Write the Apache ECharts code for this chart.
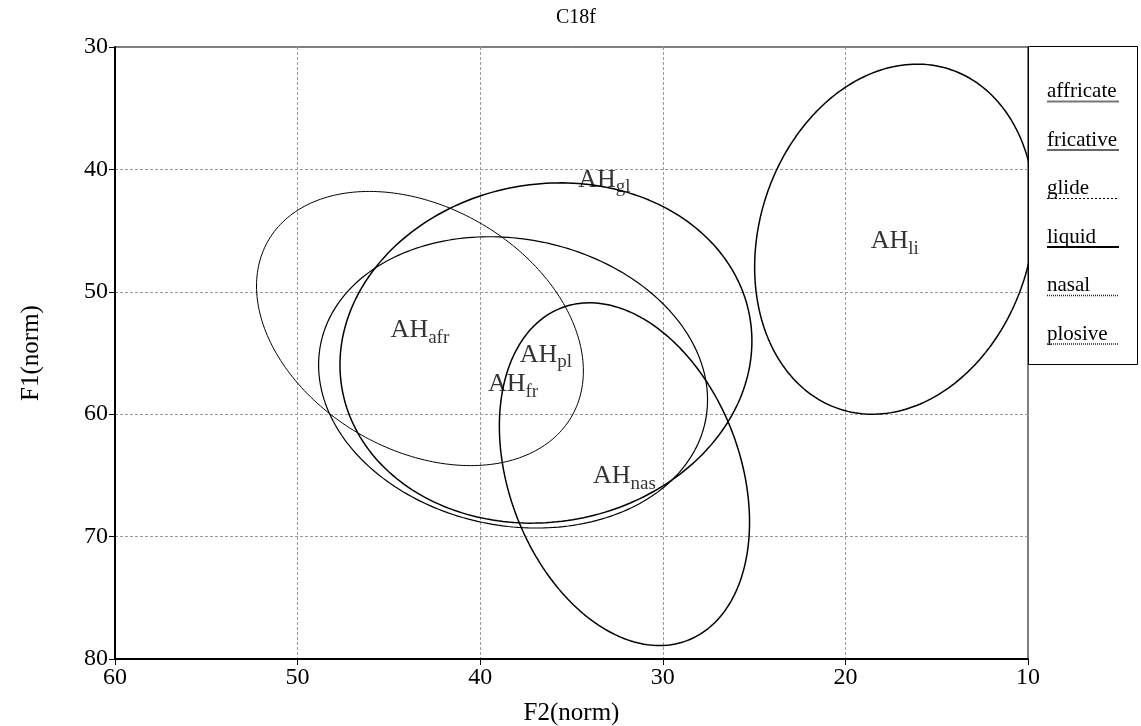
<!DOCTYPE html>
<html>
<head>
<meta charset="utf-8">
<script src="https://cdn.jsdelivr.net/npm/echarts@6/dist/echarts.min.js"></script>
<style>
  html, body { margin: 0; padding: 0; background: #fff; }
  #chart { width: 1141px; height: 726px; }
</style>
</head>
<body>
<div id="chart"></div>
<script>
// Speaker C18f: formant space (normalised F2 vs F1) per consonant class
const classCodes  = ['afr', 'fr', 'gl', 'li', 'nas', 'pl'];
const classNames  = ['affricate', 'fricative', 'glide', 'liquid', 'nasal', 'plosive'];

// class means
const meanF2 = [43.3, 38.2, 33.2, 17.3, 32.1, 36.4];
const meanF1 = [53.0, 57.4, 40.7, 45.7, 64.9, 55.0];

// ellipse half-extents along each axis and F2/F1 correlation (glide has no ellipse)
const spreadF2 = [8.95, 10.65, null, 7.67, 6.85, 11.28];
const spreadF1 = [11.2, 11.9, null, 14.3, 14.0, 13.9];
const corrF2F1 = [-0.31, -0.12, null, 0.16, -0.28, 0.07];

// axis ticks
const f2Ticks = [60, 50, 40, 30, 20, 10];
const f1Ticks = [30, 40, 50, 60, 70, 80];

const lineWidths = [1, 1.2, 1, 1.5, 1.5, 1.5];

const SERIF = '"Liberation Serif", "Times New Roman", "DejaVu Serif", serif';

function ellipsePoints(i) {
  const pts = [];
  const phi = Math.acos(corrF2F1[i]);
  const n = 240;
  for (let k = 0; k <= n; k++) {
    const t = (2 * Math.PI * k) / n;
    pts.push([
      meanF2[i] + spreadF2[i] * Math.cos(t),
      meanF1[i] + spreadF1[i] * Math.cos(t - phi)
    ]);
  }
  return pts;
}

const series = [];
classCodes.forEach(function (code, i) {
  if (spreadF2[i] == null) return;
  series.push({
    name: classNames[i],
    type: 'line',
    data: ellipsePoints(i),
    showSymbol: false,
    symbol: 'none',
    silent: true,
    clip: true,
    lineStyle: { color: '#000', width: lineWidths[i] },
    z: 3
  });
});

series.push({
  type: 'scatter',
  data: classCodes.map(function (code, i) { return { value: [meanF2[i], meanF1[i]], code: code }; }),
  symbolSize: 1,
  itemStyle: { color: 'rgba(0,0,0,0)' },
  silent: true,
  z: 4,
  label: {
    show: true,
    position: 'inside',
    offset: [0, 4],
    formatter: function (p) { return '{a|AH}{s|' + p.data.code + '}'; },
    rich: {
      a: { fontFamily: SERIF, fontSize: 26, color: '#000', lineHeight: 30, verticalAlign: 'top' },
      s: { fontFamily: SERIF, fontSize: 19, color: '#000', lineHeight: 14, verticalAlign: 'bottom' }
    }
  }
});

// legend box with styled sample underlines
const legendStyles = [
  { stroke: '#777', lineWidth: 2, lineDash: null },
  { stroke: '#333', lineWidth: 1.5, lineDash: null },
  { stroke: '#000', lineWidth: 1, lineDash: [2, 2] },
  { stroke: '#000', lineWidth: 2, lineDash: null },
  { stroke: '#222', lineWidth: 1.5, lineDash: [1, 1] },
  { stroke: '#222', lineWidth: 1.5, lineDash: [1, 1] }
];
const legendElems = [{
  type: 'rect',
  shape: { x: 1028.5, y: 46.5, width: 109, height: 318 },
  style: { fill: '#fff', stroke: '#000', lineWidth: 1 },
  z: 10
}];
classNames.forEach(function (name, i) {
  const base = 97 + i * 48.5;
  legendElems.push({
    type: 'text',
    x: 1047, y: base + 5,
    style: { text: name, font: '21px ' + SERIF, fill: '#000', align: 'left', verticalAlign: 'bottom' },
    z: 11
  });
  legendElems.push({
    type: 'line',
    shape: { x1: 1047, y1: base + 4.5, x2: 1119, y2: base + 4.5 },
    style: { stroke: legendStyles[i].stroke, lineWidth: legendStyles[i].lineWidth, lineDash: legendStyles[i].lineDash },
    z: 11
  });
});

const chart = echarts.init(document.getElementById('chart'), null, { renderer: 'canvas' });
chart.setOption({
  animation: false,
  backgroundColor: '#fff',
  title: {
    text: 'C18f',
    left: 571, top: 3, textAlign: 'center',
    textStyle: { fontFamily: SERIF, fontSize: 20, fontWeight: 'normal', color: '#000' }
  },
  grid: {
    left: 115, right: 113, top: 47, bottom: 67,
    containLabel: false, outerBoundsMode: 'none',
    show: true, borderColor: '#000', borderWidth: 1, backgroundColor: 'transparent'
  },
  xAxis: {
    type: 'value',
    inverse: true,
    min: f2Ticks[f2Ticks.length - 1], max: f2Ticks[0], interval: 10,
    name: 'F2(norm)', nameLocation: 'middle', nameGap: 42,
    nameTextStyle: { fontFamily: SERIF, fontSize: 25, color: '#000' },
    axisLine: { show: true, onZero: false, lineStyle: { color: '#000', width: 2 } },
    axisTick: { show: true, length: 6, lineStyle: { color: '#000', width: 1 } },
    axisLabel: { fontFamily: SERIF, fontSize: 24, color: '#000', margin: 7, showMinLabel: true, showMaxLabel: true },
    splitLine: { show: true, showMinLine: false, showMaxLine: false, lineStyle: { color: '#999', width: 1, type: [3, 2] } }
  },
  yAxis: {
    type: 'value',
    inverse: true,
    min: f1Ticks[0], max: f1Ticks[f1Ticks.length - 1], interval: 10,
    name: 'F1(norm)', nameLocation: 'middle', nameGap: 71, nameRotate: 90,
    nameTextStyle: { fontFamily: SERIF, fontSize: 25, color: '#000' },
    axisLine: { show: true, onZero: false, lineStyle: { color: '#000', width: 2 } },
    axisTick: { show: true, length: 6, lineStyle: { color: '#000', width: 1 } },
    axisLabel: { fontFamily: SERIF, fontSize: 24, color: '#000', margin: 7, showMinLabel: true, showMaxLabel: true },
    splitLine: { show: true, showMinLine: false, showMaxLine: false, lineStyle: { color: '#999', width: 1, type: [3, 2] } }
  },
  graphic: legendElems,
  series: series
});
</script>
</body>
</html>
